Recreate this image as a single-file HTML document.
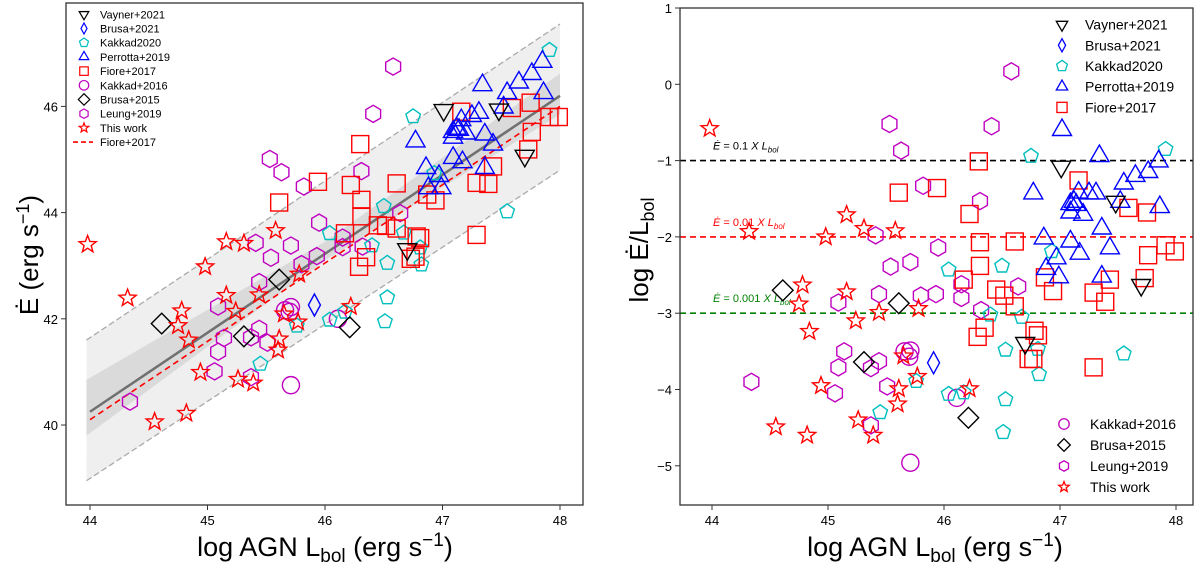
<!DOCTYPE html>
<html><head><meta charset="utf-8">
<style>
html,body{margin:0;padding:0;background:#fff;}
svg{display:block;font-family:"Liberation Sans","DejaVu Sans",sans-serif;}
</style></head>
<body>
<svg id="chart" width="1200" height="566" viewBox="0 0 1200 566" xmlns="http://www.w3.org/2000/svg">
  <g id="left"></g>
  <g id="right"></g>
</svg>
<script>
// ---- data (log Lbol, log Edot/Lbol) ----
const thisWorkL = [43.98,44.32,44.98,45.16,45.31,45.58,44.78,45.16,44.75,45.44,45.78,45.24,44.84,45.65,45.77,44.94,45.61,45.60,45.26,44.55,44.82,45.39,46.22];
const thisWorkR = [-0.58,-1.93,-2.00,-1.71,-1.89,-1.92,-2.63,-2.72,-2.88,-2.99,-2.94,-3.10,-3.24,-3.56,-3.83,-3.95,-3.99,-4.19,-4.40,-4.49,-4.60,-4.60,-3.99];
const leungL = [45.53,45.63,45.82,45.41,45.71,45.54,45.95,45.09,45.44,45.80,45.93,45.14,45.09,45.44,45.37,44.34,45.06,45.51,45.37,46.58,46.41,46.31,46.15,46.15,46.64,46.32];
const leungR = [-0.52,-0.87,-1.33,-1.98,-2.33,-2.39,-2.14,-2.86,-2.75,-2.77,-2.75,-3.50,-3.71,-3.63,-3.72,-3.90,-4.05,-3.96,-4.47,0.17,-0.55,-1.53,-2.62,-2.80,-2.65,-2.96];
const kakkad16L = [45.66,45.71,45.70,45.71,46.11];
const kakkad16R = [-3.50,-3.49,-3.57,-4.96,-4.11];
const brusa15L = [44.61,45.61,45.31,46.21];
const brusa15R = [-2.70,-2.87,-3.64,-4.37];
const brusa21L = [45.91];
const brusa21R = [-3.65];
const kakkad20L = [45.76,45.45,46.75,47.91,46.93,46.04,46.50,46.40,46.67,46.53,46.81,47.55,46.82,46.04,46.17,46.53,46.51];
const kakkad20R = [-3.89,-4.30,-0.94,-0.85,-2.19,-2.43,-2.38,-3.02,-3.05,-3.48,-3.47,-3.53,-3.80,-4.06,-4.04,-4.13,-4.56];
const vaynerL = [47.01,47.48,47.70,46.70];
const vaynerR = [-1.08,-1.54,-2.63,-3.39];
const fioreL = [45.61,45.94,46.30,47.16,46.22,47.59,47.75,46.31,46.61,47.91,47.99,47.76,46.31,46.17,46.87,47.43,47.73,46.45,46.52,46.61,46.94,47.29,47.39,46.35,46.29,46.78,46.81,46.73,46.77,47.29];
const fioreR = [-1.42,-1.36,-1.01,-1.26,-1.70,-1.62,-1.68,-2.07,-2.06,-2.11,-2.19,-2.24,-2.38,-2.56,-2.53,-2.56,-2.54,-2.69,-2.77,-2.91,-2.71,-2.73,-2.85,-3.19,-3.31,-3.23,-3.29,-3.60,-3.60,-3.71];
const perrottaL = [47.34,47.85,47.76,47.65,47.55,46.77,47.16,47.25,47.31,47.12,47.09,47.14,47.09,47.20,47.52,47.86,47.36,46.86,47.09,47.43,47.17,46.97,46.88,46.99,47.36];
const perrottaR = [-0.94,-1.01,-1.15,-1.20,-1.30,-1.43,-1.42,-1.43,-1.43,-1.54,-1.57,-1.58,-1.68,-1.71,-1.54,-1.61,-1.89,-2.02,-2.06,-2.15,-2.22,-2.28,-2.42,-2.53,-2.52];
const xTicks = [44,45,46,47,48];
const leftYTicks = [40,42,44,46];
const rightYTicks = [1,0,-1,-2,-3,-4,-5];
const fitLine = [[44,40.25],[48,46.2]];
const fioreLine = [[44,40.1],[48,46.0]];
const bandUpper = [[43.97,41.6],[48,47.55]];
const bandLower = [[43.97,38.95],[48,44.8]];
const confUpper = [[43.97,40.85],[46,43.45],[48,46.62]];
const confLower = [[43.97,39.8],[46,43.1],[48,45.85]];
const refLevels = [-1,-2,-3];

// ---- axes ----
const NS="http://www.w3.org/2000/svg";
const LX0=66,LX1=583,LY0=3,LY1=505;
const RX0=680,RX1=1193,RY0=8,RY1=505;
const lx=v=>90+(v-44)*117.5, ly=v=>425-(v-40)*53.1;
const rx=v=>712+(v-44)*116, ry=v=>8+(1-v)*76.3;
function el(tag,attrs,parent,txt){const e=document.createElementNS(NS,tag);for(const k in attrs)e.setAttribute(k,attrs[k]);if(txt!==undefined)e.textContent=txt;parent.appendChild(e);return e;}
const L=document.getElementById('left'), R=document.getElementById('right');

function shape(kind,cx,cy,s,color,parent,sw){
  let e; sw=sw||1.4;
  const poly=(n,r,rot)=>{let p=[];for(let i=0;i<n;i++){const a=rot+i*2*Math.PI/n;p.push((cx+r*Math.cos(a)).toFixed(1)+','+(cy+r*Math.sin(a)).toFixed(1));}return p.join(' ');};
  if(kind==='square') e=el('rect',{x:cx-s*0.85,y:cy-s*0.85,width:s*1.7,height:s*1.7},parent);
  else if(kind==='circle') e=el('circle',{cx:cx,cy:cy,r:s*0.95},parent);
  else if(kind==='tri') e=el('polygon',{points:poly(3,s*1.1,-Math.PI/2).split(' ').map((q,i)=>q).join(' ')},parent);
  else if(kind==='trid') e=el('polygon',{points:poly(3,s*1.1,Math.PI/2)},parent);
  else if(kind==='hex') e=el('polygon',{points:poly(6,s*0.95,Math.PI/2)},parent);
  else if(kind==='pent') e=el('polygon',{points:poly(5,s*0.95,-Math.PI/2)},parent);
  else if(kind==='diamond') e=el('polygon',{points:poly(4,s*1.15,-Math.PI/2)},parent);
  else if(kind==='thindiamond') e=el('polygon',{points:`${cx},${cy-s*1.1} ${cx+s*0.6},${cy} ${cx},${cy+s*1.1} ${cx-s*0.6},${cy}`},parent);
  else if(kind==='star'){let p=[];for(let i=0;i<10;i++){const r=i%2?s*0.42:s;const a=-Math.PI/2+i*Math.PI/5;p.push((cx+r*Math.cos(a)).toFixed(1)+','+(cy+r*Math.sin(a)).toFixed(1));}e=el('polygon',{points:p.join(' ')},parent);}
  e.setAttribute('fill','none');e.setAttribute('stroke',color);e.setAttribute('stroke-width',sw);
  return e;
}

const series=[
 {n:'kakkad2016',k:'circle',c:'#c000c0',L:kakkad16L,R:kakkad16R,s:9},
 {n:'leung2019',k:'hex',c:'#c000c0',L:leungL,R:leungR,s:9},
 {n:'kakkad2020',k:'pent',c:'#00bfbf',L:kakkad20L,R:kakkad20R,s:8},
 {n:'fiore2017',k:'square',c:'#ff0000',L:fioreL,R:fioreR,s:10},
 {n:'perrotta2019',k:'tri',c:'#0000ff',L:perrottaL,R:perrottaR,s:10},
 {n:'brusa2021',k:'thindiamond',c:'#0000ff',L:brusa21L,R:brusa21R,s:10},
 {n:'brusa2015',k:'diamond',c:'#000',L:brusa15L,R:brusa15R,s:9},
 {n:'vayner2021',k:'trid',c:'#000',L:vaynerL,R:vaynerR,s:10},
 {n:'this-work',k:'star',c:'#ff0000',L:thisWorkL,R:thisWorkR,s:9},
];

// ---- left panel ----
const clipL=el('clipPath',{id:'cl'},L); el('rect',{x:LX0,y:LY0,width:LX1-LX0,height:LY1-LY0},clipL);
const pg=el('g',{'clip-path':'url(#cl)'},L);
const band=el('polygon',{points:[...bandUpper.map(p=>lx(p[0])+','+ly(p[1])),...bandLower.slice().reverse().map(p=>lx(p[0])+','+ly(p[1]))].join(' '),fill:'#efefef'},pg);

const conf=el('polygon',{points:[...confUpper.map(p=>lx(p[0])+','+ly(p[1])),...confLower.slice().reverse().map(p=>lx(p[0])+','+ly(p[1]))].join(' '),fill:'#dadada'},pg);

[bandUpper,bandLower].forEach((b,i)=>{const ln=el('line',{x1:lx(b[0][0]),y1:ly(b[0][1]),x2:lx(b[1][0]),y2:ly(b[1][1]),stroke:'#aaa','stroke-width':1.3,'stroke-dasharray':'6,3'},pg);
 });
const fl=el('line',{x1:lx(fitLine[0][0]),y1:ly(fitLine[0][1]),x2:lx(fitLine[1][0]),y2:ly(fitLine[1][1]),stroke:'#707070','stroke-width':2.5},pg);

const fd=el('line',{x1:lx(fioreLine[0][0]),y1:ly(fioreLine[0][1]),x2:lx(fioreLine[1][0]),y2:ly(fioreLine[1][1]),stroke:'#ff0000','stroke-width':1.6,'stroke-dasharray':'6,4'},pg);


function drawPoints(g,xf,yf,right){
 series.forEach(se=>{
  const sg=el('g',{},g);
  
  se.L.forEach((lv,i)=>{
   const v=right?se.R[i]:lv+se.R[i];
   const m=shape(se.k,xf(lv),yf(v),se.s,se.c,sg);
   
  });
 });
}
drawPoints(pg,lx,ly,false);

function axes(g,x0,x1,y0,y1,xf,yf,yt,prefix){
 const fr=el('rect',{x:x0,y:y0,width:x1-x0,height:y1-y0,fill:'none',stroke:'#333','stroke-width':1.3},g);
 
 xTicks.forEach(t=>{const x=xf(t);el('line',{x1:x,y1:y1,x2:x,y2:y1+5,stroke:'#333','stroke-width':1},g);
  const tx=el('text',{x:x,y:y1+20,'text-anchor':'middle','font-size':13,fill:'#000'},g,String(t));
  });
 yt.forEach(t=>{const y=yf(t);el('line',{x1:x0-5,y1:y,x2:x0,y2:y,stroke:'#333','stroke-width':1},g);
  const tx=el('text',{x:x0-8,y:y+5,'text-anchor':'end','font-size':13,fill:'#000'},g,t<0?'\u2212'+(-t):String(t));
  });
}
axes(L,LX0,LX1,LY0,LY1,lx,ly,leftYTicks,'left');

// left legend
const lg=el('g',{},L); 
const leftLeg=[['trid','#000','Vayner+2021'],['thindiamond','#0000ff','Brusa+2021'],['pent','#00bfbf','Kakkad2020'],['tri','#0000ff','Perrotta+2019'],['square','#ff0000','Fiore+2017'],['circle','#c000c0','Kakkad+2016'],['diamond','#000','Brusa+2015'],['hex','#c000c0','Leung+2019'],['star','#ff0000','This work'],['line','#ff0000','Fiore+2017']];
leftLeg.forEach((e,i)=>{const y=14.3+i*14.2;
 if(e[0]==='line') el('line',{x1:73,y1:y,x2:93,y2:y,stroke:e[1],'stroke-width':1.6,'stroke-dasharray':'5,3'},lg);
 else shape(e[0],84,y,5,e[1],lg,1.2);
 const t=el('text',{x:100,y:y+4,'font-size':11,fill:'#000'},lg,e[2]);
 });

const lyt=el('text',{x:0,y:0,'font-size':26,'text-anchor':'middle',transform:'translate(38,255) rotate(-90)',fill:'#000'},L);
lyt.innerHTML='Ė (erg s<tspan dy="-9" font-size="18">\u22121</tspan><tspan dy="9">)</tspan>';

const lxt=el('text',{x:325,y:556,'font-size':27,'text-anchor':'middle',fill:'#000'},L);
lxt.innerHTML='log AGN L<tspan dy="6" font-size="19">bol</tspan><tspan dy="-6"> (erg s</tspan><tspan dy="-10" font-size="19">\u22121</tspan><tspan dy="10">)</tspan>';


// ---- right panel ----
const clipR=el('clipPath',{id:'cr'},R); el('rect',{x:RX0,y:RY0,width:RX1-RX0,height:RY1-RY0},clipR);
const rg=el('g',{'clip-path':'url(#cr)'},R);
const refCols=['#000','#ff0000','#008000'];
const refTexts=['0.1','0.01','0.001'];
refLevels.forEach((v,i)=>{const ln=el('line',{x1:RX0,y1:ry(v),x2:RX1,y2:ry(v),stroke:refCols[i],'stroke-width':1.6,'stroke-dasharray':'6,4'},rg);
 
 const t=el('text',{x:713,y:ry(v)-11,'font-size':11,fill:refCols[i],'font-style':'italic'},rg);
 t.innerHTML='Ė <tspan font-style="normal">= '+refTexts[i]+'</tspan> X L<tspan dy="3" font-size="8">bol</tspan>';
 });
drawPoints(rg,rx,ry,true);
axes(R,RX0,RX1,RY0,RY1,rx,ry,rightYTicks,'right');

const rl1=el('g',{},R); 
[['trid','#000','Vayner+2021'],['thindiamond','#0000ff','Brusa+2021'],['pent','#00bfbf','Kakkad2020'],['tri','#0000ff','Perrotta+2019'],['square','#ff0000','Fiore+2017']].forEach((e,i)=>{const y=24.6+i*20.7;
 shape(e[0],1062,y,6,e[1],rl1,1.3);
 const t=el('text',{x:1085,y:y+5,'font-size':14,fill:'#000'},rl1,e[2]);
 });
shape('tri',1062,130,10,'#0000ff',rl1,1.4);
const rl2=el('g',{},R); 
[['circle','#c000c0','Kakkad+2016'],['diamond','#000','Brusa+2015'],['hex','#c000c0','Leung+2019'],['star','#ff0000','This work']].forEach((e,i)=>{const y=424+i*21;
 shape(e[0],1064,y,5.5,e[1],rl2,1.3);
 const t=el('text',{x:1090,y:y+5,'font-size':14,fill:'#000'},rl2,e[2]);
 });

const ryt=el('text',{x:0,y:0,'font-size':26,'text-anchor':'middle',transform:'translate(648,250) rotate(-90)',fill:'#000'},R);
ryt.innerHTML='log Ė/L<tspan dy="6" font-size="18">bol</tspan>';

const rxt=el('text',{x:935,y:556,'font-size':27,'text-anchor':'middle',fill:'#000'},R);
rxt.innerHTML='log AGN L<tspan dy="6" font-size="19">bol</tspan><tspan dy="-6"> (erg s</tspan><tspan dy="-10" font-size="19">\u22121</tspan><tspan dy="10">)</tspan>';

</script>
</body></html>
